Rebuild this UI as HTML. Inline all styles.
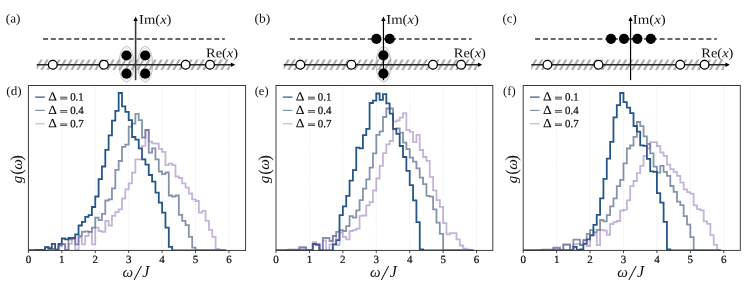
<!DOCTYPE html>
<html><head><meta charset="utf-8"><title>fig</title>
<style>
html,body{margin:0;padding:0;background:#fff;}
svg{display:block;font-family:"Liberation Serif",serif;}
text{fill:#111;}
.b{fill:#0a0a0a;stroke:#0a0a0a;stroke-width:0.22px;}
</style></head><body>
<svg width="747" height="294" viewBox="0 0 747 294">
<defs>
<filter id="tf" x="0" y="0" width="747" height="294" filterUnits="userSpaceOnUse" color-interpolation-filters="sRGB"><feOffset dx="0" dy="0"/></filter>
</defs>
<rect width="747" height="294" fill="#fff"/>
<g><clipPath id="hc0"><rect x="36.7" y="59.5" width="193.1" height="10.4"/></clipPath>
<path d="M29.1 70.8 L36.0 58.8 M35.1 70.8 L42.0 58.8 M41.1 70.8 L48.0 58.8 M47.1 70.8 L54.0 58.8 M53.1 70.8 L60.0 58.8 M59.1 70.8 L66.0 58.8 M65.1 70.8 L72.0 58.8 M71.1 70.8 L78.0 58.8 M77.1 70.8 L84.0 58.8 M83.1 70.8 L90.0 58.8 M89.1 70.8 L96.0 58.8 M95.1 70.8 L102.0 58.8 M101.1 70.8 L108.0 58.8 M107.1 70.8 L114.0 58.8 M113.1 70.8 L120.0 58.8 M119.1 70.8 L126.0 58.8 M125.1 70.8 L132.0 58.8 M131.1 70.8 L138.0 58.8 M137.1 70.8 L144.0 58.8 M143.1 70.8 L150.0 58.8 M149.1 70.8 L156.0 58.8 M155.1 70.8 L162.0 58.8 M161.1 70.8 L168.0 58.8 M167.1 70.8 L174.0 58.8 M173.1 70.8 L180.0 58.8 M179.1 70.8 L186.0 58.8 M185.1 70.8 L192.0 58.8 M191.1 70.8 L198.0 58.8 M197.1 70.8 L204.0 58.8 M203.1 70.8 L210.0 58.8 M209.1 70.8 L216.0 58.8 M215.1 70.8 L222.0 58.8 M221.1 70.8 L228.0 58.8 M227.1 70.8 L234.0 58.8" stroke="#acacac" stroke-width="2.15" fill="none" clip-path="url(#hc0)"/>
<line x1="43.05" y1="39.0" x2="224.80" y2="39.0" stroke="#363636" stroke-width="1.65" stroke-dasharray="5.0 2.785"/>
<ellipse cx="126.5" cy="64.2" rx="7.5" ry="17.8" fill="none" stroke="#8e8e8e" stroke-width="0.55"/>
<ellipse cx="126.5" cy="64.2" rx="6.2" ry="15.9" fill="none" stroke="#b4b4b4" stroke-width="0.4"/>
<ellipse cx="145.2" cy="64.2" rx="7.5" ry="17.8" fill="none" stroke="#8e8e8e" stroke-width="0.55"/>
<ellipse cx="145.2" cy="64.2" rx="6.2" ry="15.9" fill="none" stroke="#b4b4b4" stroke-width="0.4"/>
<line x1="36.7" y1="64.8" x2="231.6" y2="64.8" stroke="#262626" stroke-width="1.45"/>
<path d="M235.2 64.8 l-4.3 -2.3 l0 4.6 z" fill="#000"/>
<line x1="135.60" y1="20" x2="135.60" y2="80.2" stroke="#383838" stroke-width="1.60"/>
<path d="M135.60 16.6 l-2.15 4.5 l4.3 0 z" fill="#000"/>
<circle cx="52.8" cy="64.8" r="4.4" fill="#fff" stroke="#000" stroke-width="1.3"/>
<circle cx="103.9" cy="64.8" r="4.4" fill="#fff" stroke="#000" stroke-width="1.3"/>
<circle cx="185.6" cy="64.8" r="4.4" fill="#fff" stroke="#000" stroke-width="1.3"/>
<circle cx="210.0" cy="64.8" r="4.4" fill="#fff" stroke="#000" stroke-width="1.3"/>
<circle cx="126.5" cy="55.5" r="5.1" fill="#000"/>
<circle cx="145.2" cy="55.5" r="5.1" fill="#000"/>
<circle cx="126.5" cy="73.7" r="5.1" fill="#000"/>
<circle cx="145.2" cy="73.7" r="5.1" fill="#000"/>
</g>
<g><clipPath id="hc1"><rect x="283.7" y="59.5" width="193.1" height="10.4"/></clipPath>
<path d="M276.1 70.8 L283.0 58.8 M282.1 70.8 L289.0 58.8 M288.1 70.8 L295.0 58.8 M294.1 70.8 L301.0 58.8 M300.1 70.8 L307.0 58.8 M306.1 70.8 L313.0 58.8 M312.1 70.8 L319.0 58.8 M318.1 70.8 L325.0 58.8 M324.1 70.8 L331.0 58.8 M330.1 70.8 L337.0 58.8 M336.1 70.8 L343.0 58.8 M342.1 70.8 L349.0 58.8 M348.1 70.8 L355.0 58.8 M354.1 70.8 L361.0 58.8 M360.1 70.8 L367.0 58.8 M366.1 70.8 L373.0 58.8 M372.1 70.8 L379.0 58.8 M378.1 70.8 L385.0 58.8 M384.1 70.8 L391.0 58.8 M390.1 70.8 L397.0 58.8 M396.1 70.8 L403.0 58.8 M402.1 70.8 L409.0 58.8 M408.1 70.8 L415.0 58.8 M414.1 70.8 L421.0 58.8 M420.1 70.8 L427.0 58.8 M426.1 70.8 L433.0 58.8 M432.1 70.8 L439.0 58.8 M438.1 70.8 L445.0 58.8 M444.1 70.8 L451.0 58.8 M450.1 70.8 L457.0 58.8 M456.1 70.8 L463.0 58.8 M462.1 70.8 L469.0 58.8 M468.1 70.8 L475.0 58.8 M474.1 70.8 L481.0 58.8" stroke="#acacac" stroke-width="2.15" fill="none" clip-path="url(#hc1)"/>
<line x1="289.90" y1="39.0" x2="471.60" y2="39.0" stroke="#363636" stroke-width="1.65" stroke-dasharray="5.0 2.785"/>
<ellipse cx="383.5" cy="64.2" rx="7.5" ry="17.8" fill="none" stroke="#8e8e8e" stroke-width="0.55"/>
<ellipse cx="383.5" cy="64.2" rx="6.2" ry="15.9" fill="none" stroke="#b4b4b4" stroke-width="0.4"/>
<line x1="283.7" y1="64.8" x2="478.6" y2="64.8" stroke="#262626" stroke-width="1.45"/>
<path d="M482.2 64.8 l-4.3 -2.3 l0 4.6 z" fill="#000"/>
<line x1="383.45" y1="20" x2="383.45" y2="80.2" stroke="#000" stroke-width="1.20"/>
<path d="M383.45 16.6 l-2.15 4.5 l4.3 0 z" fill="#000"/>
<circle cx="300.3" cy="64.8" r="4.4" fill="#fff" stroke="#000" stroke-width="1.3"/>
<circle cx="351.4" cy="64.8" r="4.4" fill="#fff" stroke="#000" stroke-width="1.3"/>
<circle cx="433.0" cy="64.8" r="4.4" fill="#fff" stroke="#000" stroke-width="1.3"/>
<circle cx="461.1" cy="64.8" r="4.4" fill="#fff" stroke="#000" stroke-width="1.3"/>
<circle cx="376.4" cy="38.9" r="5.1" fill="#000"/>
<circle cx="389.7" cy="38.9" r="5.1" fill="#000"/>
<circle cx="383.4" cy="55.4" r="5.1" fill="#000"/>
<circle cx="383.4" cy="73.6" r="5.1" fill="#000"/>
</g>
<g><clipPath id="hc2"><rect x="531.3" y="59.5" width="193.1" height="10.4"/></clipPath>
<path d="M523.7 70.8 L530.6 58.8 M529.7 70.8 L536.6 58.8 M535.7 70.8 L542.6 58.8 M541.7 70.8 L548.6 58.8 M547.7 70.8 L554.6 58.8 M553.7 70.8 L560.6 58.8 M559.7 70.8 L566.6 58.8 M565.7 70.8 L572.6 58.8 M571.7 70.8 L578.6 58.8 M577.7 70.8 L584.6 58.8 M583.7 70.8 L590.6 58.8 M589.7 70.8 L596.6 58.8 M595.7 70.8 L602.6 58.8 M601.7 70.8 L608.6 58.8 M607.7 70.8 L614.6 58.8 M613.7 70.8 L620.6 58.8 M619.7 70.8 L626.6 58.8 M625.7 70.8 L632.6 58.8 M631.7 70.8 L638.6 58.8 M637.7 70.8 L644.6 58.8 M643.7 70.8 L650.6 58.8 M649.7 70.8 L656.6 58.8 M655.7 70.8 L662.6 58.8 M661.7 70.8 L668.6 58.8 M667.7 70.8 L674.6 58.8 M673.7 70.8 L680.6 58.8 M679.7 70.8 L686.6 58.8 M685.7 70.8 L692.6 58.8 M691.7 70.8 L698.6 58.8 M697.7 70.8 L704.6 58.8 M703.7 70.8 L710.6 58.8 M709.7 70.8 L716.6 58.8 M715.7 70.8 L722.6 58.8 M721.7 70.8 L728.6 58.8" stroke="#acacac" stroke-width="2.15" fill="none" clip-path="url(#hc2)"/>
<line x1="535.10" y1="39.0" x2="716.80" y2="39.0" stroke="#363636" stroke-width="1.65" stroke-dasharray="5.0 2.785"/>
<line x1="531.3" y1="64.8" x2="726.2" y2="64.8" stroke="#262626" stroke-width="1.45"/>
<path d="M729.8 64.8 l-4.3 -2.3 l0 4.6 z" fill="#000"/>
<line x1="630.55" y1="20" x2="630.55" y2="80.2" stroke="#000" stroke-width="1.20"/>
<path d="M630.55 16.6 l-2.15 4.5 l4.3 0 z" fill="#000"/>
<circle cx="547.4" cy="64.8" r="4.4" fill="#fff" stroke="#000" stroke-width="1.3"/>
<circle cx="598.5" cy="64.8" r="4.4" fill="#fff" stroke="#000" stroke-width="1.3"/>
<circle cx="680.2" cy="64.8" r="4.4" fill="#fff" stroke="#000" stroke-width="1.3"/>
<circle cx="704.6" cy="64.8" r="4.4" fill="#fff" stroke="#000" stroke-width="1.3"/>
<circle cx="611.0" cy="38.8" r="5.1" fill="#000"/>
<circle cx="624.0" cy="38.8" r="5.1" fill="#000"/>
<circle cx="637.4" cy="38.8" r="5.1" fill="#000"/>
<circle cx="650.8" cy="38.8" r="5.1" fill="#000"/>
</g>
<g><rect x="28.40" y="85.50" width="217.20" height="164.90" fill="#fff"/>
<line x1="61.83" y1="85.50" x2="61.83" y2="250.40" stroke="#d4d4d4" stroke-width="0.55" stroke-dasharray="0.7 1.0"/>
<line x1="95.26" y1="85.50" x2="95.26" y2="250.40" stroke="#d4d4d4" stroke-width="0.55" stroke-dasharray="0.7 1.0"/>
<line x1="128.69" y1="85.50" x2="128.69" y2="250.40" stroke="#d4d4d4" stroke-width="0.55" stroke-dasharray="0.7 1.0"/>
<line x1="162.12" y1="85.50" x2="162.12" y2="250.40" stroke="#d4d4d4" stroke-width="0.55" stroke-dasharray="0.7 1.0"/>
<line x1="195.55" y1="85.50" x2="195.55" y2="250.40" stroke="#d4d4d4" stroke-width="0.55" stroke-dasharray="0.7 1.0"/>
<line x1="228.98" y1="85.50" x2="228.98" y2="250.40" stroke="#d4d4d4" stroke-width="0.55" stroke-dasharray="0.7 1.0"/>
<clipPath id="clipd"><rect x="28.40" y="85.50" width="217.20" height="164.90"/></clipPath>
<g clip-path="url(#clipd)">
<path d="M28.40 250.40 L28.40 250.40 L31.74 250.40 L31.74 250.40 L35.09 250.40 L35.09 250.00 L38.43 250.00 L38.43 250.00 L41.77 250.00 L41.77 249.90 L45.11 249.90 L45.11 247.20 L48.46 247.20 L48.46 248.20 L51.80 248.20 L51.80 243.90 L55.14 243.90 L55.14 249.90 L58.49 249.90 L58.49 243.90 L61.83 243.90 L61.83 238.50 L65.17 238.50 L65.17 239.40 L68.52 239.40 L68.52 238.00 L71.86 238.00 L71.86 238.00 L75.20 238.00 L75.20 234.30 L78.54 234.30 L78.54 225.50 L81.89 225.50 L81.89 221.80 L85.23 221.80 L85.23 216.80 L88.57 216.80 L88.57 215.10 L91.92 215.10 L91.92 207.00 L95.26 207.00 L95.26 196.50 L98.60 196.50 L98.60 179.20 L101.95 179.20 L101.95 166.50 L105.29 166.50 L105.29 149.80 L108.63 149.80 L108.63 135.40 L111.97 135.40 L111.97 120.60 L115.32 120.60 L115.32 110.90 L118.66 110.90 L118.66 93.00 L122.00 93.00 L122.00 106.40 L125.35 106.40 L125.35 111.80 L128.69 111.80 L128.69 120.10 L132.03 120.10 L132.03 137.00 L135.38 137.00 L135.38 139.70 L138.72 139.70 L138.72 148.40 L142.06 148.40 L142.06 159.30 L145.41 159.30 L145.41 164.70 L148.75 164.70 L148.75 175.00 L152.09 175.00 L152.09 181.70 L155.43 181.70 L155.43 192.60 L158.78 192.60 L158.78 202.70 L162.12 202.70 L162.12 212.60 L165.46 212.60 L165.46 227.60 L168.81 227.60 L168.81 246.90 L172.15 246.90 L172.15 250.40 L175.49 250.40 L175.49 250.40 L178.84 250.40 L178.84 250.40 L182.18 250.40 L182.18 250.40 L185.52 250.40 L185.52 250.40 L188.86 250.40 L188.86 250.40 L192.21 250.40 L192.21 250.40 L195.55 250.40 L195.55 250.40 L198.89 250.40 L198.89 250.40 L202.24 250.40 L202.24 250.40 L205.58 250.40 L205.58 250.40 L208.92 250.40 L208.92 250.40 L212.27 250.40 L212.27 250.40 L215.61 250.40 L215.61 250.40 L218.95 250.40 L218.95 250.40 L222.29 250.40 L222.29 250.40 L225.64 250.40 L225.64 250.40" fill="none" stroke="rgb(14,66,124)" stroke-width="1.8" stroke-linejoin="miter" stroke-opacity="0.90"/>
<path d="M28.40 250.40 L28.40 250.40 L31.74 250.40 L31.74 250.40 L35.09 250.40 L35.09 250.40 L38.43 250.40 L38.43 250.40 L41.77 250.40 L41.77 250.40 L45.11 250.40 L45.11 247.40 L48.46 247.40 L48.46 249.40 L51.80 249.40 L51.80 248.90 L55.14 248.90 L55.14 249.40 L58.49 249.40 L58.49 245.20 L61.83 245.20 L61.83 244.40 L65.17 244.40 L65.17 249.90 L68.52 249.90 L68.52 239.40 L71.86 239.40 L71.86 238.50 L75.20 238.50 L75.20 244.40 L78.54 244.40 L78.54 236.00 L81.89 236.00 L81.89 231.80 L85.23 231.80 L85.23 231.30 L88.57 231.30 L88.57 231.80 L91.92 231.80 L91.92 227.60 L95.26 227.60 L95.26 217.60 L98.60 217.60 L98.60 220.10 L101.95 220.10 L101.95 213.90 L105.29 213.90 L105.29 200.50 L108.63 200.50 L108.63 199.30 L111.97 199.30 L111.97 188.40 L115.32 188.40 L115.32 169.80 L118.66 169.80 L118.66 161.00 L122.00 161.00 L122.00 146.80 L125.35 146.80 L125.35 144.70 L128.69 144.70 L128.69 126.60 L132.03 126.60 L132.03 123.60 L135.38 123.60 L135.38 113.80 L138.72 113.80 L138.72 120.20 L142.06 120.20 L142.06 137.50 L145.41 137.50 L145.41 130.00 L148.75 130.00 L148.75 152.60 L152.09 152.60 L152.09 148.40 L155.43 148.40 L155.43 159.30 L158.78 159.30 L158.78 171.50 L162.12 171.50 L162.12 174.20 L165.46 174.20 L165.46 172.50 L168.81 172.50 L168.81 195.50 L172.15 195.50 L172.15 196.70 L175.49 196.70 L175.49 195.50 L178.84 195.50 L178.84 214.80 L182.18 214.80 L182.18 220.90 L185.52 220.90 L185.52 225.10 L188.86 225.10 L188.86 236.80 L192.21 236.80 L192.21 247.70 L195.55 247.70 L195.55 250.40 L198.89 250.40 L198.89 250.40 L202.24 250.40 L202.24 250.40 L205.58 250.40 L205.58 250.40 L208.92 250.40 L208.92 250.40 L212.27 250.40 L212.27 250.40 L215.61 250.40 L215.61 250.40 L218.95 250.40 L218.95 250.40 L222.29 250.40 L222.29 250.40 L225.64 250.40 L225.64 250.40" fill="none" stroke="rgb(52,77,113)" stroke-width="1.8" stroke-linejoin="miter" stroke-opacity="0.60"/>
<path d="M28.40 250.40 L28.40 250.40 L31.74 250.40 L31.74 250.40 L35.09 250.40 L35.09 250.40 L38.43 250.40 L38.43 250.40 L41.77 250.40 L41.77 250.40 L45.11 250.40 L45.11 250.40 L48.46 250.40 L48.46 249.90 L51.80 249.90 L51.80 249.40 L55.14 249.40 L55.14 249.40 L58.49 249.40 L58.49 246.40 L61.83 246.40 L61.83 243.90 L65.17 243.90 L65.17 249.90 L68.52 249.90 L68.52 243.90 L71.86 243.90 L71.86 238.50 L75.20 238.50 L75.20 249.90 L78.54 249.90 L78.54 237.70 L81.89 237.70 L81.89 244.40 L85.23 244.40 L85.23 236.00 L88.57 236.00 L88.57 231.80 L91.92 231.80 L91.92 244.40 L95.26 244.40 L95.26 227.60 L98.60 227.60 L98.60 231.00 L101.95 231.00 L101.95 231.80 L105.29 231.80 L105.29 220.90 L108.63 220.90 L108.63 225.50 L111.97 225.50 L111.97 215.90 L115.32 215.90 L115.32 212.20 L118.66 212.20 L118.66 209.40 L122.00 209.40 L122.00 198.50 L125.35 198.50 L125.35 189.30 L128.69 189.30 L128.69 183.40 L132.03 183.40 L132.03 172.60 L135.38 172.60 L135.38 159.30 L138.72 159.30 L138.72 159.30 L142.06 159.30 L142.06 145.90 L145.41 145.90 L145.41 130.00 L148.75 130.00 L148.75 141.70 L152.09 141.70 L152.09 143.40 L155.43 143.40 L155.43 143.70 L158.78 143.70 L158.78 148.90 L162.12 148.90 L162.12 151.80 L165.46 151.80 L165.46 165.20 L168.81 165.20 L168.81 163.70 L172.15 163.70 L172.15 165.10 L175.49 165.10 L175.49 176.50 L178.84 176.50 L178.84 178.00 L182.18 178.00 L182.18 183.40 L185.52 183.40 L185.52 187.60 L188.86 187.60 L188.86 193.50 L192.21 193.50 L192.21 199.30 L195.55 199.30 L195.55 201.00 L198.89 201.00 L198.89 212.60 L202.24 212.60 L202.24 210.90 L205.58 210.90 L205.58 220.90 L208.92 220.90 L208.92 229.80 L212.27 229.80 L212.27 236.80 L215.61 236.80 L215.61 248.90 L218.95 248.90 L218.95 249.90 L222.29 249.90 L222.29 249.90 L225.64 249.90 L225.64 250.40" fill="none" stroke="rgb(124,88,173)" stroke-width="1.8" stroke-linejoin="miter" stroke-opacity="0.45"/>
</g>
<rect x="28.40" y="85.50" width="217.20" height="164.90" fill="none" stroke="#333" stroke-width="0.95"/>
<line x1="28.40" y1="250.40" x2="28.40" y2="253.10" stroke="#333" stroke-width="0.9"/>
<line x1="61.83" y1="250.40" x2="61.83" y2="253.10" stroke="#333" stroke-width="0.9"/>
<line x1="95.26" y1="250.40" x2="95.26" y2="253.10" stroke="#333" stroke-width="0.9"/>
<line x1="128.69" y1="250.40" x2="128.69" y2="253.10" stroke="#333" stroke-width="0.9"/>
<line x1="162.12" y1="250.40" x2="162.12" y2="253.10" stroke="#333" stroke-width="0.9"/>
<line x1="195.55" y1="250.40" x2="195.55" y2="253.10" stroke="#333" stroke-width="0.9"/>
<line x1="228.98" y1="250.40" x2="228.98" y2="253.10" stroke="#333" stroke-width="0.9"/>
<line x1="35.20" y1="97.10" x2="44.80" y2="97.10" stroke="#265587" stroke-width="1.2"/>
<line x1="35.20" y1="110.40" x2="44.80" y2="110.40" stroke="#8594aa" stroke-width="1.2"/>
<line x1="35.20" y1="123.80" x2="44.80" y2="123.80" stroke="#c4b4da" stroke-width="1.2"/>
</g>
<g><rect x="276.00" y="85.50" width="216.80" height="164.90" fill="#fff"/>
<line x1="309.43" y1="85.50" x2="309.43" y2="250.40" stroke="#d4d4d4" stroke-width="0.55" stroke-dasharray="0.7 1.0"/>
<line x1="342.86" y1="85.50" x2="342.86" y2="250.40" stroke="#d4d4d4" stroke-width="0.55" stroke-dasharray="0.7 1.0"/>
<line x1="376.29" y1="85.50" x2="376.29" y2="250.40" stroke="#d4d4d4" stroke-width="0.55" stroke-dasharray="0.7 1.0"/>
<line x1="409.72" y1="85.50" x2="409.72" y2="250.40" stroke="#d4d4d4" stroke-width="0.55" stroke-dasharray="0.7 1.0"/>
<line x1="443.15" y1="85.50" x2="443.15" y2="250.40" stroke="#d4d4d4" stroke-width="0.55" stroke-dasharray="0.7 1.0"/>
<line x1="476.58" y1="85.50" x2="476.58" y2="250.40" stroke="#d4d4d4" stroke-width="0.55" stroke-dasharray="0.7 1.0"/>
<clipPath id="clipe"><rect x="276.00" y="85.50" width="216.80" height="164.90"/></clipPath>
<g clip-path="url(#clipe)">
<path d="M276.00 250.40 L276.00 250.40 L279.34 250.40 L279.34 250.40 L282.69 250.40 L282.69 250.40 L286.03 250.40 L286.03 250.10 L289.37 250.10 L289.37 250.10 L292.71 250.10 L292.71 250.10 L296.06 250.10 L296.06 250.10 L299.40 250.10 L299.40 250.10 L302.74 250.10 L302.74 250.10 L306.09 250.10 L306.09 250.10 L309.43 250.10 L309.43 250.10 L312.77 250.10 L312.77 243.90 L316.12 243.90 L316.12 244.40 L319.46 244.40 L319.46 250.40 L322.80 250.40 L322.80 250.40 L326.14 250.40 L326.14 250.40 L329.49 250.40 L329.49 250.40 L332.83 250.40 L332.83 244.40 L336.17 244.40 L336.17 240.20 L339.52 240.20 L339.52 215.20 L342.86 215.20 L342.86 206.40 L346.20 206.40 L346.20 195.90 L349.55 195.90 L349.55 180.60 L352.89 180.60 L352.89 170.10 L356.23 170.10 L356.23 147.60 L359.57 147.60 L359.57 148.30 L362.92 148.30 L362.92 135.10 L366.26 135.10 L366.26 128.80 L369.60 128.80 L369.60 103.00 L372.95 103.00 L372.95 100.70 L376.29 100.70 L376.29 93.50 L379.63 93.50 L379.63 99.90 L382.98 99.90 L382.98 94.20 L386.32 94.20 L386.32 103.40 L389.66 103.40 L389.66 113.60 L393.00 113.60 L393.00 128.80 L396.35 128.80 L396.35 133.80 L399.69 133.80 L399.69 146.00 L403.03 146.00 L403.03 157.00 L406.38 157.00 L406.38 170.90 L409.72 170.90 L409.72 185.10 L413.06 185.10 L413.06 200.40 L416.41 200.40 L416.41 222.10 L419.75 222.10 L419.75 249.40 L423.09 249.40 L423.09 250.40 L426.44 250.40 L426.44 250.40 L429.78 250.40 L429.78 250.40 L433.12 250.40 L433.12 250.40 L436.46 250.40 L436.46 250.40 L439.81 250.40 L439.81 250.40 L443.15 250.40 L443.15 250.40 L446.49 250.40 L446.49 250.40 L449.84 250.40 L449.84 250.40 L453.18 250.40 L453.18 250.40 L456.52 250.40 L456.52 250.40 L459.87 250.40 L459.87 250.40 L463.21 250.40 L463.21 250.40 L466.55 250.40 L466.55 250.40 L469.89 250.40 L469.89 250.40 L473.24 250.40 L473.24 250.40" fill="none" stroke="rgb(14,66,124)" stroke-width="1.8" stroke-linejoin="miter" stroke-opacity="0.90"/>
<path d="M276.00 250.40 L276.00 250.40 L279.34 250.40 L279.34 250.40 L282.69 250.40 L282.69 250.40 L286.03 250.40 L286.03 250.40 L289.37 250.40 L289.37 250.40 L292.71 250.40 L292.71 250.40 L296.06 250.40 L296.06 250.40 L299.40 250.40 L299.40 247.20 L302.74 247.20 L302.74 247.20 L306.09 247.20 L306.09 249.90 L309.43 249.90 L309.43 249.90 L312.77 249.90 L312.77 244.40 L316.12 244.40 L316.12 244.90 L319.46 244.90 L319.46 250.40 L322.80 250.40 L322.80 238.00 L326.14 238.00 L326.14 238.00 L329.49 238.00 L329.49 241.00 L332.83 241.00 L332.83 236.00 L336.17 236.00 L336.17 231.80 L339.52 231.80 L339.52 230.20 L342.86 230.20 L342.86 231.00 L346.20 231.00 L346.20 226.20 L349.55 226.20 L349.55 216.20 L352.89 216.20 L352.89 217.60 L356.23 217.60 L356.23 210.40 L359.57 210.40 L359.57 200.10 L362.92 200.10 L362.92 188.60 L366.26 188.60 L366.26 179.30 L369.60 179.30 L369.60 167.60 L372.95 167.60 L372.95 153.40 L376.29 153.40 L376.29 134.80 L379.63 134.80 L379.63 131.40 L382.98 131.40 L382.98 117.00 L386.32 117.00 L386.32 108.50 L389.66 108.50 L389.66 108.50 L393.00 108.50 L393.00 129.00 L396.35 129.00 L396.35 128.40 L399.69 128.40 L399.69 132.60 L403.03 132.60 L403.03 142.60 L406.38 142.60 L406.38 149.20 L409.72 149.20 L409.72 157.60 L413.06 157.60 L413.06 161.70 L416.41 161.70 L416.41 168.40 L419.75 168.40 L419.75 177.60 L423.09 177.60 L423.09 184.20 L426.44 184.20 L426.44 195.90 L429.78 195.90 L429.78 196.70 L433.12 196.70 L433.12 209.40 L436.46 209.40 L436.46 222.60 L439.81 222.60 L439.81 233.80 L443.15 233.80 L443.15 250.40 L446.49 250.40 L446.49 250.40 L449.84 250.40 L449.84 250.40 L453.18 250.40 L453.18 250.40 L456.52 250.40 L456.52 250.40 L459.87 250.40 L459.87 250.40 L463.21 250.40 L463.21 250.40 L466.55 250.40 L466.55 250.40 L469.89 250.40 L469.89 250.40 L473.24 250.40 L473.24 250.40" fill="none" stroke="rgb(52,77,113)" stroke-width="1.8" stroke-linejoin="miter" stroke-opacity="0.60"/>
<path d="M276.00 250.40 L276.00 250.40 L279.34 250.40 L279.34 250.40 L282.69 250.40 L282.69 250.40 L286.03 250.40 L286.03 250.40 L289.37 250.40 L289.37 249.40 L292.71 249.40 L292.71 249.40 L296.06 249.40 L296.06 249.40 L299.40 249.40 L299.40 248.20 L302.74 248.20 L302.74 248.20 L306.09 248.20 L306.09 249.90 L309.43 249.90 L309.43 249.90 L312.77 249.90 L312.77 242.20 L316.12 242.20 L316.12 245.20 L319.46 245.20 L319.46 250.40 L322.80 250.40 L322.80 240.50 L326.14 240.50 L326.14 250.10 L329.49 250.10 L329.49 244.40 L332.83 244.40 L332.83 236.00 L336.17 236.00 L336.17 245.20 L339.52 245.20 L339.52 232.70 L342.86 232.70 L342.86 236.80 L346.20 236.80 L346.20 239.40 L349.55 239.40 L349.55 231.00 L352.89 231.00 L352.89 230.20 L356.23 230.20 L356.23 228.70 L359.57 228.70 L359.57 215.90 L362.92 215.90 L362.92 215.50 L366.26 215.50 L366.26 205.40 L369.60 205.40 L369.60 202.10 L372.95 202.10 L372.95 190.50 L376.29 190.50 L376.29 178.50 L379.63 178.50 L379.63 165.90 L382.98 165.90 L382.98 153.20 L386.32 153.20 L386.32 144.30 L389.66 144.30 L389.66 141.00 L393.00 141.00 L393.00 121.70 L396.35 121.70 L396.35 120.50 L399.69 120.50 L399.69 117.60 L403.03 117.60 L403.03 113.10 L406.38 113.10 L406.38 130.00 L409.72 130.00 L409.72 131.80 L413.06 131.80 L413.06 142.10 L416.41 142.10 L416.41 134.80 L419.75 134.80 L419.75 150.00 L423.09 150.00 L423.09 157.00 L426.44 157.00 L426.44 160.90 L429.78 160.90 L429.78 176.80 L433.12 176.80 L433.12 190.30 L436.46 190.30 L436.46 200.10 L439.81 200.10 L439.81 206.80 L443.15 206.80 L443.15 223.10 L446.49 223.10 L446.49 234.30 L449.84 234.30 L449.84 233.20 L453.18 233.20 L453.18 233.20 L456.52 233.20 L456.52 239.40 L459.87 239.40 L459.87 245.50 L463.21 245.50 L463.21 248.60 L466.55 248.60 L466.55 249.60 L469.89 249.60 L469.89 249.90 L473.24 249.90 L473.24 250.40" fill="none" stroke="rgb(124,88,173)" stroke-width="1.8" stroke-linejoin="miter" stroke-opacity="0.45"/>
</g>
<rect x="276.00" y="85.50" width="216.80" height="164.90" fill="none" stroke="#333" stroke-width="0.95"/>
<line x1="276.00" y1="250.40" x2="276.00" y2="253.10" stroke="#333" stroke-width="0.9"/>
<line x1="309.43" y1="250.40" x2="309.43" y2="253.10" stroke="#333" stroke-width="0.9"/>
<line x1="342.86" y1="250.40" x2="342.86" y2="253.10" stroke="#333" stroke-width="0.9"/>
<line x1="376.29" y1="250.40" x2="376.29" y2="253.10" stroke="#333" stroke-width="0.9"/>
<line x1="409.72" y1="250.40" x2="409.72" y2="253.10" stroke="#333" stroke-width="0.9"/>
<line x1="443.15" y1="250.40" x2="443.15" y2="253.10" stroke="#333" stroke-width="0.9"/>
<line x1="476.58" y1="250.40" x2="476.58" y2="253.10" stroke="#333" stroke-width="0.9"/>
<line x1="282.80" y1="97.10" x2="292.40" y2="97.10" stroke="#265587" stroke-width="1.2"/>
<line x1="282.80" y1="110.40" x2="292.40" y2="110.40" stroke="#8594aa" stroke-width="1.2"/>
<line x1="282.80" y1="123.80" x2="292.40" y2="123.80" stroke="#c4b4da" stroke-width="1.2"/>
</g>
<g><rect x="523.20" y="85.50" width="217.10" height="164.90" fill="#fff"/>
<line x1="556.63" y1="85.50" x2="556.63" y2="250.40" stroke="#d4d4d4" stroke-width="0.55" stroke-dasharray="0.7 1.0"/>
<line x1="590.06" y1="85.50" x2="590.06" y2="250.40" stroke="#d4d4d4" stroke-width="0.55" stroke-dasharray="0.7 1.0"/>
<line x1="623.49" y1="85.50" x2="623.49" y2="250.40" stroke="#d4d4d4" stroke-width="0.55" stroke-dasharray="0.7 1.0"/>
<line x1="656.92" y1="85.50" x2="656.92" y2="250.40" stroke="#d4d4d4" stroke-width="0.55" stroke-dasharray="0.7 1.0"/>
<line x1="690.35" y1="85.50" x2="690.35" y2="250.40" stroke="#d4d4d4" stroke-width="0.55" stroke-dasharray="0.7 1.0"/>
<line x1="723.78" y1="85.50" x2="723.78" y2="250.40" stroke="#d4d4d4" stroke-width="0.55" stroke-dasharray="0.7 1.0"/>
<clipPath id="clipf"><rect x="523.20" y="85.50" width="217.10" height="164.90"/></clipPath>
<g clip-path="url(#clipf)">
<path d="M523.20 250.40 L523.20 250.40 L526.54 250.40 L526.54 250.40 L529.89 250.40 L529.89 250.40 L533.23 250.40 L533.23 250.40 L536.57 250.40 L536.57 250.40 L539.92 250.40 L539.92 250.10 L543.26 250.10 L543.26 250.10 L546.60 250.10 L546.60 250.10 L549.94 250.10 L549.94 250.10 L553.29 250.10 L553.29 250.10 L556.63 250.10 L556.63 250.10 L559.97 250.10 L559.97 250.10 L563.32 250.10 L563.32 250.10 L566.66 250.10 L566.66 250.10 L570.00 250.10 L570.00 250.10 L573.35 250.10 L573.35 246.90 L576.69 246.90 L576.69 249.90 L580.03 249.90 L580.03 249.40 L583.37 249.40 L583.37 243.90 L586.72 243.90 L586.72 239.40 L590.06 239.40 L590.06 235.20 L593.40 235.20 L593.40 224.80 L596.75 224.80 L596.75 214.80 L600.09 214.80 L600.09 198.40 L603.43 198.40 L603.43 178.80 L606.78 178.80 L606.78 158.70 L610.12 158.70 L610.12 141.80 L613.46 141.80 L613.46 117.30 L616.80 117.30 L616.80 105.10 L620.15 105.10 L620.15 93.00 L623.49 93.00 L623.49 102.10 L626.83 102.10 L626.83 107.60 L630.18 107.60 L630.18 113.10 L633.52 113.10 L633.52 126.00 L636.86 126.00 L636.86 131.70 L640.21 131.70 L640.21 145.40 L643.55 145.40 L643.55 145.80 L646.89 145.80 L646.89 158.80 L650.23 158.80 L650.23 171.40 L653.58 171.40 L653.58 171.80 L656.92 171.80 L656.92 193.20 L660.26 193.20 L660.26 202.60 L663.61 202.60 L663.61 221.80 L666.95 221.80 L666.95 249.40 L670.29 249.40 L670.29 250.40 L673.63 250.40 L673.63 250.40 L676.98 250.40 L676.98 250.40 L680.32 250.40 L680.32 250.40 L683.66 250.40 L683.66 250.40 L687.01 250.40 L687.01 250.40 L690.35 250.40 L690.35 250.40 L693.69 250.40 L693.69 250.40 L697.04 250.40 L697.04 250.40 L700.38 250.40 L700.38 250.40 L703.72 250.40 L703.72 250.40 L707.07 250.40 L707.07 250.40 L710.41 250.40 L710.41 250.40 L713.75 250.40 L713.75 250.40 L717.09 250.40 L717.09 250.40 L720.44 250.40 L720.44 250.40" fill="none" stroke="rgb(14,66,124)" stroke-width="1.8" stroke-linejoin="miter" stroke-opacity="0.90"/>
<path d="M523.20 250.40 L523.20 250.40 L526.54 250.40 L526.54 250.40 L529.89 250.40 L529.89 250.40 L533.23 250.40 L533.23 250.40 L536.57 250.40 L536.57 250.40 L539.92 250.40 L539.92 250.40 L543.26 250.40 L543.26 250.40 L546.60 250.40 L546.60 250.40 L549.94 250.40 L549.94 250.40 L553.29 250.40 L553.29 247.70 L556.63 247.70 L556.63 247.70 L559.97 247.70 L559.97 250.10 L563.32 250.10 L563.32 244.40 L566.66 244.40 L566.66 244.40 L570.00 244.40 L570.00 250.10 L573.35 250.10 L573.35 239.70 L576.69 239.70 L576.69 239.70 L580.03 239.70 L580.03 245.20 L583.37 245.20 L583.37 240.20 L586.72 240.20 L586.72 233.80 L590.06 233.80 L590.06 230.20 L593.40 230.20 L593.40 232.40 L596.75 232.40 L596.75 229.80 L600.09 229.80 L600.09 220.00 L603.43 220.00 L603.43 221.40 L606.78 221.40 L606.78 215.20 L610.12 215.20 L610.12 206.40 L613.46 206.40 L613.46 198.30 L616.80 198.30 L616.80 186.20 L620.15 186.20 L620.15 179.80 L623.49 179.80 L623.49 163.30 L626.83 163.30 L626.83 148.50 L630.18 148.50 L630.18 145.50 L633.52 145.50 L633.52 136.80 L636.86 136.80 L636.86 122.00 L640.21 122.00 L640.21 126.20 L643.55 126.20 L643.55 136.40 L646.89 136.40 L646.89 144.00 L650.23 144.00 L650.23 153.40 L653.58 153.40 L653.58 166.70 L656.92 166.70 L656.92 172.60 L660.26 172.60 L660.26 165.90 L663.61 165.90 L663.61 171.80 L666.95 171.80 L666.95 175.90 L670.29 175.90 L670.29 186.00 L673.63 186.00 L673.63 191.80 L676.98 191.80 L676.98 201.70 L680.32 201.70 L680.32 205.10 L683.66 205.10 L683.66 216.20 L687.01 216.20 L687.01 224.60 L690.35 224.60 L690.35 237.20 L693.69 237.20 L693.69 250.40 L697.04 250.40 L697.04 250.40 L700.38 250.40 L700.38 250.40 L703.72 250.40 L703.72 250.40 L707.07 250.40 L707.07 250.40 L710.41 250.40 L710.41 250.40 L713.75 250.40 L713.75 250.40 L717.09 250.40 L717.09 250.40 L720.44 250.40 L720.44 250.40" fill="none" stroke="rgb(52,77,113)" stroke-width="1.8" stroke-linejoin="miter" stroke-opacity="0.60"/>
<path d="M523.20 250.40 L523.20 250.40 L526.54 250.40 L526.54 250.40 L529.89 250.40 L529.89 250.40 L533.23 250.40 L533.23 250.40 L536.57 250.40 L536.57 250.40 L539.92 250.40 L539.92 250.40 L543.26 250.40 L543.26 249.40 L546.60 249.40 L546.60 249.40 L549.94 249.40 L549.94 249.40 L553.29 249.40 L553.29 248.60 L556.63 248.60 L556.63 248.60 L559.97 248.60 L559.97 250.10 L563.32 250.10 L563.32 245.20 L566.66 245.20 L566.66 245.20 L570.00 245.20 L570.00 250.10 L573.35 250.10 L573.35 244.40 L576.69 244.40 L576.69 243.90 L580.03 243.90 L580.03 245.20 L583.37 245.20 L583.37 239.90 L586.72 239.90 L586.72 246.00 L590.06 246.00 L590.06 236.00 L593.40 236.00 L593.40 234.30 L596.75 234.30 L596.75 245.20 L600.09 245.20 L600.09 229.80 L603.43 229.80 L603.43 230.50 L606.78 230.50 L606.78 234.80 L610.12 234.80 L610.12 224.00 L613.46 224.00 L613.46 222.10 L616.80 222.10 L616.80 221.00 L620.15 221.00 L620.15 210.60 L623.49 210.60 L623.49 209.90 L626.83 209.90 L626.83 200.40 L630.18 200.40 L630.18 186.20 L633.52 186.20 L633.52 181.00 L636.86 181.00 L636.86 173.10 L640.21 173.10 L640.21 165.90 L643.55 165.90 L643.55 155.90 L646.89 155.90 L646.89 148.50 L650.23 148.50 L650.23 142.10 L653.58 142.10 L653.58 142.10 L656.92 142.10 L656.92 146.00 L660.26 146.00 L660.26 152.50 L663.61 152.50 L663.61 155.90 L666.95 155.90 L666.95 164.70 L670.29 164.70 L670.29 169.20 L673.63 169.20 L673.63 171.80 L676.98 171.80 L676.98 175.90 L680.32 175.90 L680.32 182.60 L683.66 182.60 L683.66 189.30 L687.01 189.30 L687.01 192.20 L690.35 192.20 L690.35 193.60 L693.69 193.60 L693.69 205.40 L697.04 205.40 L697.04 209.20 L700.38 209.20 L700.38 210.40 L703.72 210.40 L703.72 221.40 L707.07 221.40 L707.07 223.80 L710.41 223.80 L710.41 235.20 L713.75 235.20 L713.75 244.90 L717.09 244.90 L717.09 249.90 L720.44 249.90 L720.44 250.40" fill="none" stroke="rgb(124,88,173)" stroke-width="1.8" stroke-linejoin="miter" stroke-opacity="0.45"/>
</g>
<rect x="523.20" y="85.50" width="217.10" height="164.90" fill="none" stroke="#333" stroke-width="0.95"/>
<line x1="523.20" y1="250.40" x2="523.20" y2="253.10" stroke="#333" stroke-width="0.9"/>
<line x1="556.63" y1="250.40" x2="556.63" y2="253.10" stroke="#333" stroke-width="0.9"/>
<line x1="590.06" y1="250.40" x2="590.06" y2="253.10" stroke="#333" stroke-width="0.9"/>
<line x1="623.49" y1="250.40" x2="623.49" y2="253.10" stroke="#333" stroke-width="0.9"/>
<line x1="656.92" y1="250.40" x2="656.92" y2="253.10" stroke="#333" stroke-width="0.9"/>
<line x1="690.35" y1="250.40" x2="690.35" y2="253.10" stroke="#333" stroke-width="0.9"/>
<line x1="723.78" y1="250.40" x2="723.78" y2="253.10" stroke="#333" stroke-width="0.9"/>
<line x1="530.00" y1="97.10" x2="539.60" y2="97.10" stroke="#265587" stroke-width="1.2"/>
<line x1="530.00" y1="110.40" x2="539.60" y2="110.40" stroke="#8594aa" stroke-width="1.2"/>
<line x1="530.00" y1="123.80" x2="539.60" y2="123.80" stroke="#c4b4da" stroke-width="1.2"/>
</g>
<g filter="url(#tf)">
<text x="139.1" y="23.8" transform="rotate(0.03 139.1 23.8)" font-size="13.2px" textLength="32.4" lengthAdjust="spacingAndGlyphs">Im(<tspan font-style="italic">x</tspan>)</text>
<text x="206.0" y="57.3" transform="rotate(0.03 206.0 57.3)" font-size="13.2px" textLength="32.1" lengthAdjust="spacingAndGlyphs">Re(<tspan font-style="italic">x</tspan>)</text>
<text x="5.8" y="22.5" transform="rotate(0.03 5.8 22.5)" font-size="12.6px" textLength="14.6" lengthAdjust="spacingAndGlyphs">(a)</text>
<text x="386.3" y="23.8" transform="rotate(0.03 386.3 23.8)" font-size="13.2px" textLength="32.6" lengthAdjust="spacingAndGlyphs">Im(<tspan font-style="italic">x</tspan>)</text>
<text x="453.8" y="57.3" transform="rotate(0.03 453.8 57.3)" font-size="13.2px" textLength="32.1" lengthAdjust="spacingAndGlyphs">Re(<tspan font-style="italic">x</tspan>)</text>
<text x="254.5" y="22.5" transform="rotate(0.03 254.5 22.5)" font-size="12.6px" textLength="15.8" lengthAdjust="spacingAndGlyphs">(b)</text>
<text x="632.8" y="23.8" transform="rotate(0.03 632.8 23.8)" font-size="13.2px" textLength="33.0" lengthAdjust="spacingAndGlyphs">Im(<tspan font-style="italic">x</tspan>)</text>
<text x="701.3" y="57.3" transform="rotate(0.03 701.3 57.3)" font-size="13.2px" textLength="32.1" lengthAdjust="spacingAndGlyphs">Re(<tspan font-style="italic">x</tspan>)</text>
<text x="502.6" y="22.5" transform="rotate(0.03 502.6 22.5)" font-size="12.6px" textLength="14.0" lengthAdjust="spacingAndGlyphs">(c)</text>
<text x="28.40" y="263.0" transform="rotate(0.03 28.40 263.0)" class="b" font-size="11px" text-anchor="middle">0</text>
<text x="61.83" y="263.0" transform="rotate(0.03 61.83 263.0)" class="b" font-size="11px" text-anchor="middle">1</text>
<text x="95.26" y="263.0" transform="rotate(0.03 95.26 263.0)" class="b" font-size="11px" text-anchor="middle">2</text>
<text x="128.69" y="263.0" transform="rotate(0.03 128.69 263.0)" class="b" font-size="11px" text-anchor="middle">3</text>
<text x="162.12" y="263.0" transform="rotate(0.03 162.12 263.0)" class="b" font-size="11px" text-anchor="middle">4</text>
<text x="195.55" y="263.0" transform="rotate(0.03 195.55 263.0)" class="b" font-size="11px" text-anchor="middle">5</text>
<text x="228.98" y="263.0" transform="rotate(0.03 228.98 263.0)" class="b" font-size="11px" text-anchor="middle">6</text>
<text y="276.6" font-size="15px" font-style="italic"><tspan x="122.60">ω</tspan><tspan x="134.40" y="279.7" font-size="21px">/</tspan><tspan x="142.30" y="276.7" font-size="16px">J</tspan></text>
<text transform="translate(21.80,183.2) rotate(-90)" font-size="15px" font-style="italic">g<tspan x="8.5" y="0.5" font-size="17px" font-style="normal">(</tspan><tspan x="13.4" y="0">ω</tspan><tspan x="22.4" y="0.5" font-size="17px" font-style="normal">)</tspan></text>
<text x="48.20" y="100.60" transform="rotate(0.03 48.20 100.60)" font-size="12.4px" textLength="8.7" lengthAdjust="spacingAndGlyphs" style="fill:#000;stroke:#000;stroke-width:0.1px">Δ</text>
<text x="59.80" y="101.00" transform="rotate(0.03 59.80 101.00)" font-size="8.9px" textLength="8.0" lengthAdjust="spacingAndGlyphs" style="fill:#2a2a2a;stroke:#2a2a2a;stroke-width:0.3px">=</text>
<text x="70.20" y="100.60" transform="rotate(0.03 70.20 100.60)" class="b" font-size="11.1px" textLength="13.6" lengthAdjust="spacingAndGlyphs">0.1</text>
<text x="48.20" y="113.90" transform="rotate(0.03 48.20 113.90)" font-size="12.4px" textLength="8.7" lengthAdjust="spacingAndGlyphs" style="fill:#000;stroke:#000;stroke-width:0.1px">Δ</text>
<text x="59.80" y="114.30" transform="rotate(0.03 59.80 114.30)" font-size="8.9px" textLength="8.0" lengthAdjust="spacingAndGlyphs" style="fill:#2a2a2a;stroke:#2a2a2a;stroke-width:0.3px">=</text>
<text x="70.20" y="113.90" transform="rotate(0.03 70.20 113.90)" class="b" font-size="11.1px" textLength="13.6" lengthAdjust="spacingAndGlyphs">0.4</text>
<text x="48.20" y="127.30" transform="rotate(0.03 48.20 127.30)" font-size="12.4px" textLength="8.7" lengthAdjust="spacingAndGlyphs" style="fill:#000;stroke:#000;stroke-width:0.1px">Δ</text>
<text x="59.80" y="127.70" transform="rotate(0.03 59.80 127.70)" font-size="8.9px" textLength="8.0" lengthAdjust="spacingAndGlyphs" style="fill:#2a2a2a;stroke:#2a2a2a;stroke-width:0.3px">=</text>
<text x="70.20" y="127.30" transform="rotate(0.03 70.20 127.30)" class="b" font-size="11.1px" textLength="13.6" lengthAdjust="spacingAndGlyphs">0.7</text>
<text x="6.3" y="95.0" transform="rotate(0.03 6.3 95.0)" font-size="12.6px" textLength="15.3" lengthAdjust="spacingAndGlyphs">(d)</text>
<text x="276.00" y="263.0" transform="rotate(0.03 276.00 263.0)" class="b" font-size="11px" text-anchor="middle">0</text>
<text x="309.43" y="263.0" transform="rotate(0.03 309.43 263.0)" class="b" font-size="11px" text-anchor="middle">1</text>
<text x="342.86" y="263.0" transform="rotate(0.03 342.86 263.0)" class="b" font-size="11px" text-anchor="middle">2</text>
<text x="376.29" y="263.0" transform="rotate(0.03 376.29 263.0)" class="b" font-size="11px" text-anchor="middle">3</text>
<text x="409.72" y="263.0" transform="rotate(0.03 409.72 263.0)" class="b" font-size="11px" text-anchor="middle">4</text>
<text x="443.15" y="263.0" transform="rotate(0.03 443.15 263.0)" class="b" font-size="11px" text-anchor="middle">5</text>
<text x="476.58" y="263.0" transform="rotate(0.03 476.58 263.0)" class="b" font-size="11px" text-anchor="middle">6</text>
<text y="276.6" font-size="15px" font-style="italic"><tspan x="370.00">ω</tspan><tspan x="381.80" y="279.7" font-size="21px">/</tspan><tspan x="389.70" y="276.7" font-size="16px">J</tspan></text>
<text transform="translate(269.40,183.2) rotate(-90)" font-size="15px" font-style="italic">g<tspan x="8.5" y="0.5" font-size="17px" font-style="normal">(</tspan><tspan x="13.4" y="0">ω</tspan><tspan x="22.4" y="0.5" font-size="17px" font-style="normal">)</tspan></text>
<text x="295.80" y="100.60" transform="rotate(0.03 295.80 100.60)" font-size="12.4px" textLength="8.7" lengthAdjust="spacingAndGlyphs" style="fill:#000;stroke:#000;stroke-width:0.1px">Δ</text>
<text x="307.40" y="101.00" transform="rotate(0.03 307.40 101.00)" font-size="8.9px" textLength="8.0" lengthAdjust="spacingAndGlyphs" style="fill:#2a2a2a;stroke:#2a2a2a;stroke-width:0.3px">=</text>
<text x="317.80" y="100.60" transform="rotate(0.03 317.80 100.60)" class="b" font-size="11.1px" textLength="13.6" lengthAdjust="spacingAndGlyphs">0.1</text>
<text x="295.80" y="113.90" transform="rotate(0.03 295.80 113.90)" font-size="12.4px" textLength="8.7" lengthAdjust="spacingAndGlyphs" style="fill:#000;stroke:#000;stroke-width:0.1px">Δ</text>
<text x="307.40" y="114.30" transform="rotate(0.03 307.40 114.30)" font-size="8.9px" textLength="8.0" lengthAdjust="spacingAndGlyphs" style="fill:#2a2a2a;stroke:#2a2a2a;stroke-width:0.3px">=</text>
<text x="317.80" y="113.90" transform="rotate(0.03 317.80 113.90)" class="b" font-size="11.1px" textLength="13.6" lengthAdjust="spacingAndGlyphs">0.4</text>
<text x="295.80" y="127.30" transform="rotate(0.03 295.80 127.30)" font-size="12.4px" textLength="8.7" lengthAdjust="spacingAndGlyphs" style="fill:#000;stroke:#000;stroke-width:0.1px">Δ</text>
<text x="307.40" y="127.70" transform="rotate(0.03 307.40 127.70)" font-size="8.9px" textLength="8.0" lengthAdjust="spacingAndGlyphs" style="fill:#2a2a2a;stroke:#2a2a2a;stroke-width:0.3px">=</text>
<text x="317.80" y="127.30" transform="rotate(0.03 317.80 127.30)" class="b" font-size="11.1px" textLength="13.6" lengthAdjust="spacingAndGlyphs">0.7</text>
<text x="254.7" y="95.0" transform="rotate(0.03 254.7 95.0)" font-size="12.6px" textLength="13.9" lengthAdjust="spacingAndGlyphs">(e)</text>
<text x="523.20" y="263.0" transform="rotate(0.03 523.20 263.0)" class="b" font-size="11px" text-anchor="middle">0</text>
<text x="556.63" y="263.0" transform="rotate(0.03 556.63 263.0)" class="b" font-size="11px" text-anchor="middle">1</text>
<text x="590.06" y="263.0" transform="rotate(0.03 590.06 263.0)" class="b" font-size="11px" text-anchor="middle">2</text>
<text x="623.49" y="263.0" transform="rotate(0.03 623.49 263.0)" class="b" font-size="11px" text-anchor="middle">3</text>
<text x="656.92" y="263.0" transform="rotate(0.03 656.92 263.0)" class="b" font-size="11px" text-anchor="middle">4</text>
<text x="690.35" y="263.0" transform="rotate(0.03 690.35 263.0)" class="b" font-size="11px" text-anchor="middle">5</text>
<text x="723.78" y="263.0" transform="rotate(0.03 723.78 263.0)" class="b" font-size="11px" text-anchor="middle">6</text>
<text y="276.6" font-size="15px" font-style="italic"><tspan x="617.35">ω</tspan><tspan x="629.15" y="279.7" font-size="21px">/</tspan><tspan x="637.05" y="276.7" font-size="16px">J</tspan></text>
<text transform="translate(516.60,183.2) rotate(-90)" font-size="15px" font-style="italic">g<tspan x="8.5" y="0.5" font-size="17px" font-style="normal">(</tspan><tspan x="13.4" y="0">ω</tspan><tspan x="22.4" y="0.5" font-size="17px" font-style="normal">)</tspan></text>
<text x="543.00" y="100.60" transform="rotate(0.03 543.00 100.60)" font-size="12.4px" textLength="8.7" lengthAdjust="spacingAndGlyphs" style="fill:#000;stroke:#000;stroke-width:0.1px">Δ</text>
<text x="554.60" y="101.00" transform="rotate(0.03 554.60 101.00)" font-size="8.9px" textLength="8.0" lengthAdjust="spacingAndGlyphs" style="fill:#2a2a2a;stroke:#2a2a2a;stroke-width:0.3px">=</text>
<text x="565.00" y="100.60" transform="rotate(0.03 565.00 100.60)" class="b" font-size="11.1px" textLength="13.6" lengthAdjust="spacingAndGlyphs">0.1</text>
<text x="543.00" y="113.90" transform="rotate(0.03 543.00 113.90)" font-size="12.4px" textLength="8.7" lengthAdjust="spacingAndGlyphs" style="fill:#000;stroke:#000;stroke-width:0.1px">Δ</text>
<text x="554.60" y="114.30" transform="rotate(0.03 554.60 114.30)" font-size="8.9px" textLength="8.0" lengthAdjust="spacingAndGlyphs" style="fill:#2a2a2a;stroke:#2a2a2a;stroke-width:0.3px">=</text>
<text x="565.00" y="113.90" transform="rotate(0.03 565.00 113.90)" class="b" font-size="11.1px" textLength="13.6" lengthAdjust="spacingAndGlyphs">0.4</text>
<text x="543.00" y="127.30" transform="rotate(0.03 543.00 127.30)" font-size="12.4px" textLength="8.7" lengthAdjust="spacingAndGlyphs" style="fill:#000;stroke:#000;stroke-width:0.1px">Δ</text>
<text x="554.60" y="127.70" transform="rotate(0.03 554.60 127.70)" font-size="8.9px" textLength="8.0" lengthAdjust="spacingAndGlyphs" style="fill:#2a2a2a;stroke:#2a2a2a;stroke-width:0.3px">=</text>
<text x="565.00" y="127.30" transform="rotate(0.03 565.00 127.30)" class="b" font-size="11.1px" textLength="13.6" lengthAdjust="spacingAndGlyphs">0.7</text>
<text x="503.0" y="95.0" transform="rotate(0.03 503.0 95.0)" font-size="12.6px" textLength="12.6" lengthAdjust="spacingAndGlyphs">(f)</text>
</g>
</svg></body></html>
